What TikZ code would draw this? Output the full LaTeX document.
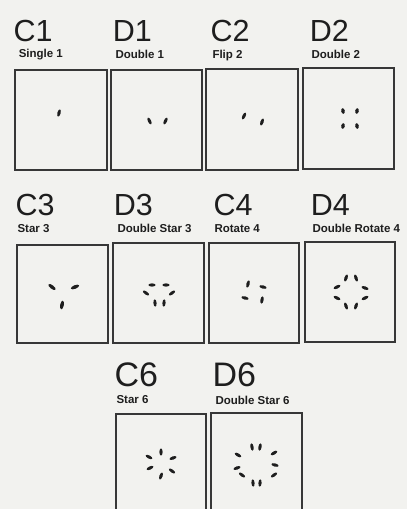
\documentclass[tikz,border=0pt]{standalone}
\usepackage{fontspec}
\setmainfont{Liberation Sans}
\definecolor{paper}{RGB}{242,242,239}
\definecolor{ink}{RGB}{30,30,30}
\definecolor{boxline}{RGB}{55,55,55}
\tikzset{
  boxframe/.style={draw=boxline, line width=1.3pt},
  ttl/.style={anchor=base west, inner sep=0pt, text=ink, font=\fontsize{30.5}{30.5}\selectfont},
  ttlbig/.style={ttl, font=\fontsize{34}{34}\selectfont},
  sub/.style={anchor=base west, inner sep=0pt, text=ink, font=\bfseries\fontsize{11.5}{11.5}\selectfont},
  mk/.style={fill=ink, x radius=3.7pt, y radius=1.6pt},
  small/.style={x radius=2.8pt, y radius=1.8pt},
  big/.style={x radius=4.4pt, y radius=1.8pt}
}
\newcommand\mk[4][]{\fill[mk,#1, shift={(#2pt,#3pt)}, rotate=#4] (0,0) ellipse [];}
\begin{document}
\begin{tikzpicture}[x=1pt,y=-1pt]
\useasboundingbox (0,0) rectangle (407,509);
\clip (0,0) rectangle (407,509);
\fill[paper] (0,0) rectangle (407,509);

% ---- titles row 1
\node[ttl] (tC1) at (13.5,41.7) {C1};
\node[ttl] (tD1) at (112.6,41.7) {D1};
\node[ttl] (tC2) at (210.5,41.7) {C2};
\node[ttl] (tD2) at (309.6,41.7) {D2};
\node[sub] (sC1) at (18.6,57.6) {Single 1};
\node[sub] (sD1) at (115.3,58) {Double 1};
\node[sub] (sC2) at (212.3,58) {Flip 2};
\node[sub] (sD2) at (311.3,58) {Double 2};
% ---- titles row 2
\node[ttl] (tC3) at (15.5,215) {C3};
\node[ttl] (tD3) at (113.6,215) {D3};
\node[ttl] (tC4) at (213.5,215) {C4};
\node[ttl] (tD4) at (310.6,215) {D4};
\node[sub] (sC3) at (17.3,232) {Star 3};
\node[sub] (sD3) at (117.3,232.5) {Double Star 3};
\node[sub] (sC4) at (214.3,232.5) {Rotate 4};
\node[sub] (sD4) at (312.3,232.5) {Double Rotate 4};
% ---- titles row 3
\node[ttlbig] (tC6) at (114.3,386.7) {C6};
\node[ttlbig] (tD6) at (212.3,386.7) {D6};
\node[sub] (sC6) at (116.3,403.8) {Star 6};
\node[sub] (sD6) at (215.3,404) {Double Star 6};

% ---- boxes
\draw[boxframe] (15,70) rectangle (107,170);
\draw[boxframe] (111,70) rectangle (202,170);
\draw[boxframe] (206,69) rectangle (298,170);
\draw[boxframe] (303,68) rectangle (394,169);
\draw[boxframe] (17,245) rectangle (108,343);
\draw[boxframe] (113,243) rectangle (204,343);
\draw[boxframe] (209,243) rectangle (299,343);
\draw[boxframe] (305,242) rectangle (395,342);
\draw[boxframe] (116,414) rectangle (206,530);
\draw[boxframe] (211,413) rectangle (302,530);

% ---- C1
\begin{scope}[shift={(61,120)}]
\mk{-2}{7}{75}
\end{scope}
% ---- D1
\begin{scope}[shift={(157.5,120)}]
\mk{-8}{-1}{115}\mk{8}{-1}{65}
\end{scope}
% ---- C2
\begin{scope}[shift={(253,119)}]
\mk{-9}{3}{65}\mk{9}{-3}{70}
\end{scope}
% ---- D2
\begin{scope}[shift={(350,118.5)}]
\mk[small]{-7}{7.5}{100}\mk[small]{7}{7.5}{80}
\mk[small]{-7}{-7.5}{80}\mk[small]{7}{-7.5}{100}
\end{scope}
% ---- C3
\begin{scope}[shift={(63,294)}]
\mk[big]{-11}{7}{143}\mk[big]{12}{7}{22}\mk[big]{-1}{-11}{80}
\end{scope}
% ---- D3
\begin{scope}[shift={(159,294)}]
\mk{-7}{9}{0}\mk{7}{9}{0}
\mk{-13}{1}{145}\mk{13}{1}{35}
\mk{-4}{-9}{95}\mk{5}{-9}{85}
\end{scope}
% ---- C4
\begin{scope}[shift={(254,292)}]
\mk{-6}{8}{75}\mk{9}{5}{-15}\mk{-9}{-6}{-15}\mk{8}{-8}{80}
\end{scope}
% ---- D4
\begin{scope}[shift={(351,292)}]
\mk{-5}{14}{70}\mk{5}{14}{110}
\mk{-14}{5}{25}\mk{14}{4}{-20}
\mk{-14}{-6}{-25}\mk{14}{-6}{25}
\mk{-5}{-14}{110}\mk{5}{-14}{70}
\end{scope}
% ---- C6
\begin{scope}[shift={(161,464)}]
\mk{0}{12}{90}\mk{-12}{7}{152}\mk{12}{6}{20}
\mk{-11}{-4}{25}\mk{0}{-12}{70}\mk{11}{-7}{-35}
\end{scope}
% ---- D6
\begin{scope}[shift={(256,465)}]
\mk{-4}{18}{100}\mk{4}{18}{80}
\mk{-18}{10}{150}\mk{18}{12}{30}
\mk{-19}{-3}{20}\mk{19}{0}{-15}
\mk{-14}{-10}{-35}\mk{18}{-10}{35}
\mk{-3}{-18}{95}\mk{4}{-18}{85}
\end{scope}
\end{tikzpicture}
\end{document}
